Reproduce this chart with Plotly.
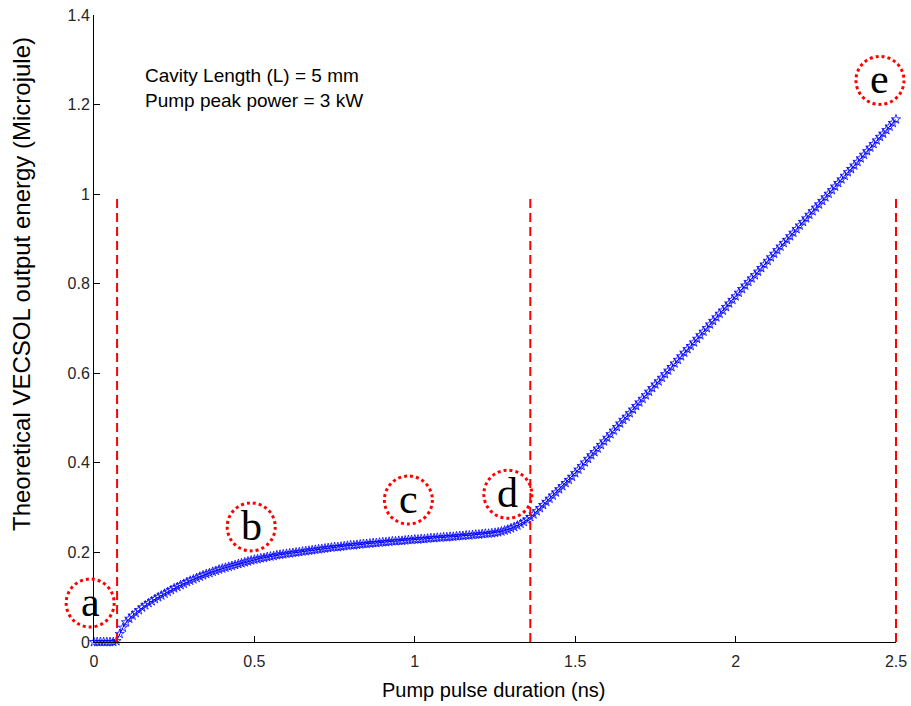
import plotly.graph_objects as go

# ---- data ----
pulse_ns = [round(i * 0.01, 2) for i in range(251)]
energy_uj = [
    0, 0, 0, 0, 0, 0, 0, 0.002, 0.018, 0.032,
    0.044, 0.052, 0.059, 0.065, 0.071, 0.077, 0.082, 0.087, 0.091, 0.096,
    0.100, 0.104, 0.108, 0.112, 0.116, 0.120, 0.123, 0.127, 0.130, 0.134,
    0.137, 0.140, 0.143, 0.146, 0.149, 0.152, 0.154, 0.157, 0.159, 0.162,
    0.164, 0.166, 0.168, 0.170, 0.172, 0.174, 0.176, 0.178, 0.180, 0.182,
    0.184, 0.185, 0.187, 0.188, 0.190, 0.191, 0.192, 0.194, 0.195, 0.196,
    0.197, 0.198, 0.199, 0.200, 0.201, 0.202, 0.203, 0.204, 0.205, 0.206,
    0.207, 0.208, 0.209, 0.210, 0.211, 0.212, 0.212, 0.213, 0.214, 0.215,
    0.216, 0.216, 0.217, 0.218, 0.219, 0.219, 0.220, 0.221, 0.221, 0.222,
    0.223, 0.223, 0.224, 0.225, 0.225, 0.226, 0.226, 0.227, 0.228, 0.228,
    0.229, 0.229, 0.230, 0.230, 0.231, 0.232, 0.232, 0.233, 0.233, 0.234,
    0.234, 0.235, 0.235, 0.236, 0.237, 0.237, 0.238, 0.238, 0.239, 0.240,
    0.240, 0.241, 0.242, 0.242, 0.243, 0.244, 0.245, 0.247, 0.249, 0.251,
    0.254, 0.257, 0.260, 0.264, 0.268, 0.273, 0.279, 0.285, 0.292, 0.299,
    0.306, 0.313, 0.320, 0.327, 0.334, 0.341, 0.348, 0.355, 0.362, 0.369,
    0.377, 0.385, 0.393, 0.401, 0.409, 0.417, 0.424, 0.432, 0.440, 0.448,
    0.456, 0.464, 0.472, 0.480, 0.488, 0.496, 0.503, 0.511, 0.519, 0.527,
    0.535, 0.543, 0.551, 0.559, 0.567, 0.575, 0.582, 0.590, 0.598, 0.606,
    0.614, 0.622, 0.630, 0.638, 0.646, 0.654, 0.661, 0.669, 0.677, 0.685,
    0.693, 0.701, 0.709, 0.717, 0.725, 0.733, 0.740, 0.748, 0.756, 0.764,
    0.772, 0.780, 0.788, 0.796, 0.804, 0.812, 0.819, 0.827, 0.835, 0.843,
    0.851, 0.859, 0.867, 0.875, 0.883, 0.891, 0.898, 0.906, 0.914, 0.922,
    0.930, 0.938, 0.946, 0.954, 0.962, 0.970, 0.977, 0.985, 0.993, 1.001,
    1.009, 1.017, 1.025, 1.033, 1.041, 1.049, 1.056, 1.064, 1.072, 1.080,
    1.088, 1.096, 1.104, 1.112, 1.120, 1.128, 1.135, 1.143, 1.151, 1.159,
    1.167,
]

regime_bounds_ns = [0.072, 1.36, 2.5]
regime_bound_top = 1.0

point_labels = ["a", "b", "c", "d", "e"]
point_x = [-0.012, 0.49, 0.98, 1.29, 2.45]
point_y = [0.087, 0.257, 0.317, 0.33, 1.254]

x_ticks = [0, 0.5, 1, 1.5, 2, 2.5]
x_tick_text = ["0", "0.5", "1", "1.5", "2", "2.5"]
y_ticks = [0, 0.2, 0.4, 0.6, 0.8, 1.0, 1.2, 1.4]
y_tick_text = ["0", "0.2", "0.4", "0.6", "0.8", "1", "1.2", "1.4"]

X_RANGE = [0, 2.5]
Y_RANGE = [0, 1.4]

L, R, T, B = 94, 15, 15, 64
W, H = 911, 706
PW, PH = W - L - R, H - T - B


def px_to_paper_x(px):
    return (px - L) / PW


def px_to_paper_y(py):
    return (H - B - py) / PH


def dx(v):
    return (v - X_RANGE[0]) / (X_RANGE[1] - X_RANGE[0])


def dy(v):
    return (v - Y_RANGE[0]) / (Y_RANGE[1] - Y_RANGE[0])


SANS = "Liberation Sans, Arial, sans-serif"
SERIF = "Liberation Serif, Times New Roman, serif"

fig = go.Figure()
fig.add_trace(go.Scatter(
    x=pulse_ns, y=energy_uj, mode="lines+markers",
    line=dict(color="blue", width=1),
    marker=dict(symbol="star-open", size=7, color="blue", line=dict(width=0.8, color="blue")),
    cliponaxis=False, showlegend=False,
))

shapes = []
for xb in regime_bounds_ns:
    shapes.append(dict(type="line", xref="paper", yref="paper", x0=dx(xb), x1=dx(xb),
                       y0=dy(0), y1=dy(regime_bound_top),
                       line=dict(color="red", width=2, dash="9px,5px")))
for px, py in zip(point_x, point_y):
    shapes.append(dict(type="circle", xref="paper", yref="paper",
                       xsizemode="pixel", ysizemode="pixel",
                       xanchor=dx(px), yanchor=dy(py), x0=-24, x1=24, y0=-24, y1=24,
                       line=dict(color="red", width=3, dash="dot")))

annotations = []
for lab, px, py in zip(point_labels, point_x, point_y):
    annotations.append(dict(x=dx(px), y=dy(py), xref="paper", yref="paper", text=lab, showarrow=False,
                            font=dict(family=SERIF, size=42, color="black"),
                            xanchor="center", yanchor="middle", yshift=1))
annotations.append(dict(x=dx(0.153), y=dy(1.237), xref="paper", yref="paper",
                        text="Cavity Length (L) = 5 mm<br>Pump peak power = 3 kW",
                        showarrow=False, align="left", xanchor="left", yanchor="middle",
                        font=dict(family=SANS, size=19, color="black")))
annotations.append(dict(x=px_to_paper_x(493), y=px_to_paper_y(690), xref="paper", yref="paper",
                        text="Pump pulse duration (ns)", showarrow=False,
                        xanchor="center", yanchor="middle",
                        font=dict(family=SANS, size=20, color="black")))
annotations.append(dict(x=px_to_paper_x(21), y=px_to_paper_y(284), xref="paper", yref="paper",
                        text="Theoretical VECSOL output energy (Microjule)", showarrow=False,
                        textangle=-90, xanchor="center", yanchor="middle",
                        font=dict(family=SANS, size=24, color="black")))

fig.update_layout(
    width=W, height=H,
    margin=dict(l=L, r=R, t=T, b=B),
    paper_bgcolor="white", plot_bgcolor="white",
    font=dict(family=SANS, size=16, color="#262626"),
    shapes=shapes, annotations=annotations,
    xaxis=dict(range=X_RANGE, tickvals=x_ticks, ticktext=x_tick_text, automargin=False,
               showgrid=False, zeroline=False, showline=True, linecolor="black", linewidth=1,
               ticks="inside", ticklen=6, tickcolor="black", tickfont=dict(size=16),
               ticklabelstandoff=5),
    yaxis=dict(range=Y_RANGE, tickvals=y_ticks, ticktext=y_tick_text, automargin=False,
               showgrid=False, zeroline=False, showline=True, linecolor="black", linewidth=1,
               ticks="inside", ticklen=6, tickcolor="black", tickfont=dict(size=16)),
)

fig.write_html("out.html", config={"displayModeBar": False},
               post_script="document.body.style.margin='0';document.body.style.overflow='hidden';")
